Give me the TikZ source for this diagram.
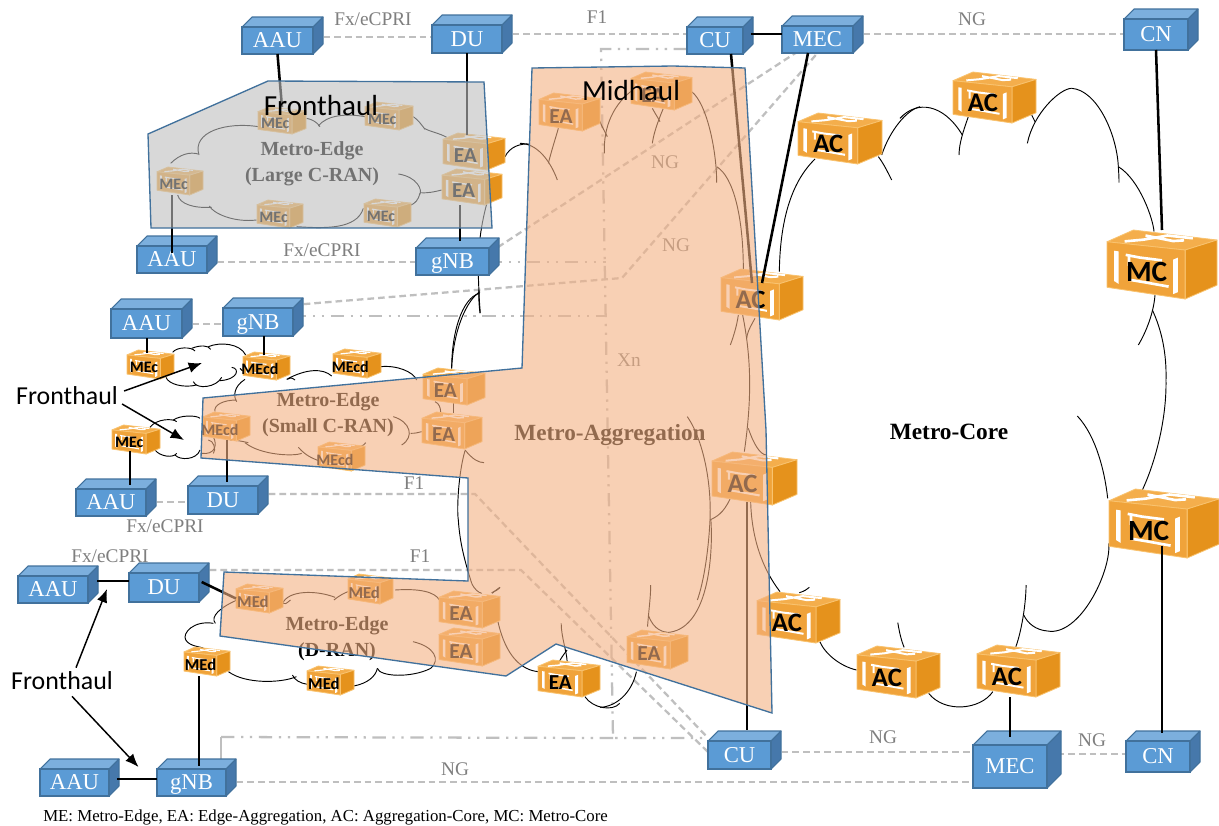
\documentclass[tikz,border=0pt]{standalone}
\usepackage{fontspec}
\setmainfont{Liberation Serif}
\newfontfamily\calib{Carlito}
\usetikzlibrary{arrows.meta}
\pgfdeclarelayer{back}\pgfdeclarelayer{cloudl}\pgfsetlayers{back,cloudl,main}
\definecolor{bluF}{HTML}{5B9BD5}
\definecolor{bluT}{HTML}{7CAFDD}
\definecolor{bluS}{HTML}{4678AB}
\definecolor{bluL}{HTML}{41719C}
\definecolor{rF}{HTML}{F0A33A}
\definecolor{rT}{HTML}{F4AE4C}
\definecolor{rS}{HTML}{E5921C}
\definecolor{rL}{HTML}{F9C36F}
\definecolor{dashG}{HTML}{BFBFBF}
\definecolor{txtG}{HTML}{7F7F7F}
\definecolor{peach}{HTML}{F4B183}
\definecolor{polyL}{HTML}{41719C}
\tikzset{
 zm/.style n args={4}{xshift=#1*.75pt,yshift=-#2*.75pt,x=#3pt,y=-#4pt},
 cl/.style={draw=black,line width=.7pt},
 cable/.style={draw=black,line width=1.9pt},
 dsh/.style={draw=dashG,line width=1.7pt,dash pattern=on 5pt off 3pt},
 dshdot/.style={draw=dashG,line width=1.7pt,dash pattern=on 10pt off 5pt on 1.7pt off 5pt on 1.7pt off 5pt},
 bluface/.style={draw=bluL,line width=.8pt,line join=round},
 blufront/.style={rectangle,fill=bluF,draw=bluL,line width=.8pt,inner sep=0pt,outer sep=0pt,text=white,font=\fontsize{17}{18}\selectfont,text height=11pt,text depth=0pt},
 rtrhit/.style={rectangle,inner sep=0pt,outer sep=0pt},
 grl/.style={text=txtG,inner sep=0pt,font=\fontsize{14.5}{16}\selectfont},
 region/.style={inner sep=0pt,align=center,font=\fontsize{15}{19.5}\selectfont\bfseries},
 hop/.style={inner sep=0pt,font=\calib\fontsize{19.4}{22}\selectfont},
 arr/.style={draw=black,line width=1.1pt,-{Latex[length=10pt,width=8pt]}}
}
\newcommand\blu[7]{%
 \filldraw[bluface,fill=bluT] (#2,#3+#6) -- (#2+#6,#3) -- (#4,#3) -- (#4-#6,#3+#6) -- cycle;
 \filldraw[bluface,fill=bluS] (#4-#6,#3+#6) -- (#4,#3) -- (#4,#5-#6) -- (#4-#6,#5) -- cycle;
 \node[blufront,minimum width=(#4-#2-#6)*.75pt,minimum height=(#5-#3-#6)*.75pt,anchor=north west] (#1) at (#2,#3+#6) {#7};
}
\newcommand\rtr[7]{%
 \pgfmathsetmacro\rW{(#4-#2)*.75}\pgfmathsetmacro\rH{(#5-#3)*.75}
 \pgfmathsetmacro\rL{(#4-#2)*.018}
 \node[rtrhit,minimum width=\rW pt,minimum height=\rH pt] (#1) at ({(#2+#4)/2},{(#3+#5)/2}) {};
 \begin{scope}[shift={(#2,#3)},x=\rW pt,y=-\rH pt]
  \filldraw[draw=rL,fill=rT,line width=.6pt,line join=round] (0,.17) -- (.24,0) -- (1,.145) -- (.71,.29) -- cycle;
  \filldraw[draw=rL,fill=rS,line width=.6pt,line join=round] (.71,.29) -- (1,.145) -- (1,.8) -- (.71,1) -- cycle;
  \filldraw[draw=rL,fill=rF,line width=.6pt,line join=round] (0,.17) -- (.71,.29) -- (.71,1) -- (0,.83) -- cycle;
  \fill[white] (.065,.30) -- (.105,.31) -- (.105,.78) -- (.065,.74) -- cycle;
  \fill[white] (.60,.43) -- (.645,.40) -- (.645,.90) -- (.60,.93) -- cycle;
  \draw[white,line width=\rL pt] (.17,.36) -- (.3,.4) -- (.5,.44) (.2,.36) -- (.2,.52) (.2,.72) -- (.35,.76) -- (.56,.82);
  \draw[white,line width=\rL pt] (.16,.165) -- (.33,.14) -- (.55,.08) -- (.78,.12) (.35,.08) -- (.6,.16) -- (.7,.15);
  \node[inner sep=0pt,font=\calib\bfseries\fontsize{#7}{#7}\selectfont] (#1l) at (.36,.61) {#6};
 \end{scope}
}
\newcommand\cv[4]{\draw[cl] (#1) .. controls (#2) and (#3) .. (#4);}
\begin{document}
\begin{tikzpicture}[x=.75pt,y=-.75pt]
\useasboundingbox (0,0) rectangle (1219,825);
\begin{pgfonlayer}{back}
\fill[white] (0,0) rectangle (1219,825);
\end{pgfonlayer}

\blu{aauTop}{242}{17}{323}{54}{10}{AAU}
\blu{duTop}{432}{15}{512}{53}{10}{DU}
\blu{cuTop}{687}{17}{753}{54}{10}{CU}
\blu{mecTop}{782}{16}{863}{53}{10}{MEC}
\blu{cnTop}{1124}{9}{1198}{50}{10}{CN}
\blu{aauLC}{137}{236}{217}{273}{10}{AAU}
\blu{gnbLC}{416}{238}{499}{275}{10}{gNB}
\blu{aauSC}{111}{299}{192}{338}{10}{AAU}
\blu{gnbSC}{223}{298}{303}{336}{10}{gNB}
\blu{aauSD}{76}{479}{156}{516}{10}{AAU}
\blu{duSD}{188}{476}{268}{514}{10}{DU}
\blu{aauDD}{18}{566}{98}{603}{10}{AAU}
\blu{duDD}{129}{563}{209}{602}{10}{DU}
\blu{aauDG}{40}{759}{119}{796}{10}{AAU}
\blu{gnbDG}{157}{759}{236}{796}{10}{gNB}
\blu{cuBot}{708}{731}{781}{769}{10}{CU}
\blu{mecBot}{973}{731}{1061}{788}{14}{MEC}
\blu{cnBot}{1126}{731}{1200}{772}{10}{CN}

\rtr{mecA}{258}{107}{306}{134}{MEc}{12}
\rtr{mecB}{365}{102}{413}{130}{MEc}{12}
\rtr{mecC}{157}{167}{203}{195}{MEc}{12}
\rtr{mecD}{257}{200}{303}{228}{MEc}{12}
\rtr{mecE}{364}{199}{411}{227}{MEc}{12}
\rtr{eaA}{443}{133}{505}{170}{EA}{16}
\rtr{eaB}{442}{169}{502}{205}{EA}{16}
\rtr{mecF}{127}{350}{174}{379}{MEc}{12}
\rtr{mecdA}{243}{352}{290}{380}{MEcd}{12}
\rtr{mecdB}{333}{349}{381}{378}{MEcd}{12}
\rtr{eaC}{423}{368}{485}{405}{EA}{16}
\rtr{eaD}{422}{412}{482}{449}{EA}{16}
\rtr{mecdC}{203}{412}{250}{441}{MEcd}{12}
\rtr{mecG}{112}{425}{160}{454}{MEc}{12}
\rtr{mecdD}{318}{442}{365}{471}{MEcd}{12}
\rtr{medA}{236}{584}{283}{613}{MEd}{12.5}
\rtr{medB}{348}{574}{393}{604}{MEd}{12.5}
\rtr{medC}{184}{647}{230}{676}{MEd}{12.5}
\rtr{medD}{307}{666}{354}{695}{MEd}{12.5}
\rtr{eaE}{439}{591}{500}{628}{EA}{16}
\rtr{eaF}{439}{628}{500}{666}{EA}{16}
\rtr{eaG}{538}{660}{600}{697}{EA}{16}
\rtr{eaH}{627}{630}{688}{669}{EA}{16}
\rtr{eaI}{539}{93}{600}{131}{EA}{16}
\rtr{eaJ}{631}{72}{692}{110}{EA}{16}
\rtr{acT}{798}{113}{882}{164}{AC}{20}
\rtr{acU}{953}{72}{1036}{123}{AC}{20}
\rtr{acA}{721}{269}{803}{320}{AC}{20}
\rtr{acB}{712}{452}{797}{505}{AC}{20}
\rtr{acC}{757}{592}{840}{643}{AC}{20}
\rtr{acD}{857}{646}{940}{698}{AC}{20}
\rtr{acE}{977}{645}{1060}{697}{AC}{20}
\rtr{mcT}{1107}{230}{1217}{299}{MC}{22}
\rtr{mcB}{1109}{489}{1219}{558}{MC}{22}

\begin{pgfonlayer}{back}
 % dashed interfaces
 \draw[dsh] (aauTop.east |- 0,37) -- (duTop.west |- 0,37);
 \draw[dsh] (duTop.east |- 0,34) -- (cuTop.west |- 0,34);
 \draw[dsh] (mecTop.east |- 0,34) -- (cnTop.west |- 0,34);
 \draw[dsh] (aauLC.east |- 0,262) -- (gnbLC.west |- 0,262);
 \draw[dsh] (aauSC.east |- 0,324) -- (gnbSC.west |- 0,324);
 \draw[dsh] (aauSD.east |- 0,502) -- (duSD.west |- 0,502);
 \draw[dsh] (gnbLC.east |- 0,253) -- (797,52) -- (mecTop.south);
 \draw[dsh] (gnbSC.east |- 0,305) -- (622,278) -- (mecTop.south);
 \draw[dsh] (duSD.east |- 0,494) -- (475,494) -- (cuBot.west |- 0,738);
 \draw[dsh] (duDD.east |- 0,570) -- (521,570) -- (cuBot.west |- 0,752);
 \draw[dsh] (gnbDG.east |- 0,782) -- (mecBot.west |- 0,782);
 \draw[dsh] (cuBot.east |- 0,752) -- (mecBot.west |- 0,752);
 \draw[dsh] (mecBot.east |- 0,754) -- (cnBot.west |- 0,754);
 % dash-dot interfaces
 \draw[dshdot] (cuTop.west |- 0,49) -- (601,49) -- (613,738) -- (cuBot.west |- 0,738);
 \draw[dshdot] (613,738) -- (221,737);
 \draw[draw=dashG,line width=1.7pt] (221,737) -- (221,0 |- gnbDG.north);
 \draw[dshdot] (gnbLC.east |- 0,262) -- (606,262);
 \draw[dshdot] (gnbSC.east |- 0,316) -- (606,316);
 % labels
 \node[grl] (lb1) at (373,19) {Fx/eCPRI};
 \node[grl] (lb2) at (597,17) {F1};
 \node[grl] (lb3) at (972,19) {NG};
 \node[grl] (lb4) at (322,250) {Fx/eCPRI};
 \node[grl] (lb5) at (665,162) {NG};
 \node[grl] (lb6) at (676,245) {NG};
 \node[grl] (lb7) at (629,360) {Xn};
 \node[grl] (lb8) at (414,483) {F1};
 \node[grl] (lb9) at (165,526) {Fx/eCPRI};
 \node[grl] (lb10) at (110,556) {Fx/eCPRI};
 \node[grl] (lb11) at (420,556) {F1};
 \node[grl] (lb12) at (455,769) {NG};
 \node[grl] (lb13) at (883,737) {NG};
 \node[grl] (lb14) at (1092,740) {NG};
\end{pgfonlayer}

\begin{pgfonlayer}{cloudl}
\begin{scope}[zm={130}{0}{.25}{.25}]
 \cv{122,490}{150,462}{180,455}{205,462}
 \cv{207,465}{185,395}{290,365}{385,380}
 \cv{530,355}{545,358}{560,365}{570,380}
 \cv{565,378}{590,345}{650,340}{705,350}
 \cv{850,350}{865,360}{875,375}{885,388}
 \cv{883,385}{900,395}{930,400}{950,412}
 \cv{935,570}{915,575}{895,580}{870,578}
 \cv{805,522}{860,530}{880,570}{868,585}
 \cv{870,580}{865,600}{855,610}{843,615}
 \cv{700,625}{680,690}{580,685}{500,680}
 \cv{380,660}{310,668}{250,640}{238,618}
 \cv{245,622}{190,625}{150,612}{143,585}
 \cv{1050,715}{1060,630}{1085,560}{1100,520}
 \cv{1125,470}{1140,440}{1170,430}{1200,432}
\end{scope}
\begin{scope}[zm={0}{290}{.25}{.25}]
 \cv{518,187}{530,170}{575,170}{585,183}
 \cv{575,175}{600,165}{625,165}{632,178}
 \cv{625,170}{660,155}{720,160}{737,195}
 \cv{695,232}{720,235}{715,268}{660,272}
 \cv{665,262}{650,292}{590,300}{580,275}
 \cv{590,285}{550,295}{505,282}{498,262}
 \cv{720,235}{725,240}{728,245}{732,242}
 \cv{450,412}{470,385}{520,385}{530,395}
 \cv{520,390}{540,375}{590,375}{600,385}
 \cv{465,480}{480,500}{520,505}{530,490}
 \cv{525,495}{540,512}{590,510}{600,480}
 \cv{605,490}{640,495}{655,470}{640,440}
 \cv{860,268}{920,235}{970,235}{995,258}
 \cv{1142,230}{1190,225}{1240,245}{1250,270}
 \cv{885,270}{875,262}{868,262}{862,268}
 \cv{735,268}{700,290}{700,320}{710,335}
 \cv{710,330}{670,330}{640,345}{645,365}
 \cv{1180,380}{1230,395}{1245,440}{1205,465}
 \cv{1265,425}{1255,428}{1245,430}{1232,430}
 \cv{1097,458}{1090,478}{1000,480}{955,510}
 \cv{895,472}{920,500}{940,505}{955,512}
 \cv{735,458}{780,495}{880,500}{905,490}
 \cv{745,458}{720,452}{700,450}{690,450}
 \cv{625,450}{640,450}{650,480}{640,490}
 \cv{1355,235}{1360,120}{1400,30}{1440,5}
 \cv{1440,70}{1435,30}{1437,10}{1437,0}
 \cv{1395,480}{1420,510}{1435,517}{1452,518}
\end{scope}
\begin{scope}[zm={430}{260}{.25}{.25}]
 \cv{145,48}{147,100}{148,130}{151,158}
 \cv{148,100}{95,115}{65,220}{65,325}
 \cv{15,425}{28,430}{32,445}{32,457}
 \cv{70,430}{70,440}{70,450}{70,458}
 \cv{105,572}{85,640}{80,750}{85,780}
 \cv{85,780}{90,860}{110,920}{125,970}
 \cv{125,970}{135,990}{145,997}{155,1000}
 \cv{185,998}{195,995}{205,988}{210,982}
\end{scope}
\begin{scope}[zm={0}{540}{.2964}{.25}]
 \cv{1480,470}{1500,505}{1550,515}{1568,490}
 \cv{1420,250}{1420,290}{1435,340}{1435,365}
 \cv{1435,330}{1425,345}{1418,358}{1415,365}
 \cv{1260,245}{1280,350}{1320,390}{1362,395}
 \cv{1265,142}{1255,150}{1250,155}{1245,160}
 \cv{1045,305}{1100,320}{1115,360}{1090,385}
 \cv{1090,385}{1040,415}{960,410}{955,385}
 \cv{955,385}{950,410}{930,430}{895,438}
 \cv{740,405}{745,420}{760,430}{778,433}
 \cv{578,395}{620,432}{710,430}{750,410}
 \cv{1000,150}{1060,145}{1100,155}{1112,180}
 \cv{880,155}{860,165}{850,175}{845,180}
 \cv{848,172}{800,150}{730,150}{715,190}
 \cv{735,180}{725,190}{720,195}{715,190}
 \cv{600,180}{560,200}{530,230}{545,250}
 \cv{540,250}{490,240}{460,280}{470,300}
 \cv{470,300}{480,320}{510,320}{515,325}
\end{scope}
\begin{scope}[zm={520}{0}{.25}{.25}]
 \cv{0,430}{50,430}{90,480}{112,540}
 \cv{115,385}{105,420}{95,450}{85,490}
 \cv{238,360}{245,380}{255,395}{262,410}
 \cv{253,460}{250,380}{280,310}{345,265}
 \cv{397,325}{405,340}{415,355}{420,365}
 \cv{430,325}{405,385}{400,410}{397,430}
 \cv{515,275}{560,310}{590,450}{590,548}
 \cv{590,500}{640,530}{670,650}{670,810}
 \cv{885,477}{810,550}{780,670}{778,815}
 \cv{1115,540}{1100,510}{1090,490}{1075,470}
 \cv{1085,465}{1110,390}{1160,330}{1200,320}
\end{scope}
\begin{scope}[zm={900}{0}{.25}{.25}]
 \cv{0,355}{50,300}{130,310}{187,405}
 \cv{205,350}{180,420}{178,440}{177,465}
 \cv{395,345}{398,352}{402,358}{405,365}
 \cv{382,430}{400,340}{480,265}{515,265}
 \cv{515,265}{590,270}{650,400}{655,500}
 \cv{657,548}{657,530}{656,515}{655,500}
 \cv{655,500}{720,540}{760,660}{762,695}
 \cv{765,885}{760,950}{730,1010}{715,1035}
 \cv{757,930}{785,990}{800,1060}{798,1140}
\end{scope}
\begin{scope}[zm={680}{300}{.25}{.25}]
 \cv{175,45}{170,80}{160,110}{151,135}
 \cv{188,45}{215,180}{215,300}{193,455}
 \cv{225,55}{205,90}{202,100}{200,115}
 \cv{205,385}{220,430}{240,465}{260,465}
 \cv{22,350}{70,420}{95,550}{90,660}
 \cv{90,660}{85,760}{70,850}{52,900}
 \cv{150,597}{130,640}{110,650}{90,660}
 \cv{212,605}{215,720}{250,810}{300,875}
 \cv{358,878}{375,873}{380,868}{388,862}
\end{scope}
\begin{scope}[zm={1060}{380}{.25}{.25}]
 \cv{52,108}{110,170}{135,280}{143,355}
 \cv{318,0}{320,130}{280,260}{247,330}
\end{scope}
\begin{scope}[zm={600}{430}{.297}{.25}]
 \cv{1285,340}{1290,430}{1210,620}{1130,603}
 \cv{1130,603}{1100,600}{1080,580}{1070,555}
 \cv{1076,465}{1075,540}{1060,620}{1050,650}
 \cv{992,785}{960,840}{870,850}{830,790}
 \cv{648,720}{610,710}{570,675}{555,635}
 \cv{768,652}{760,630}{755,600}{752,578}
 \cv{122,555}{135,600}{160,607}{175,607}
 \cv{175,607}{280,590}{285,350}{280,270}
 \cv{128,465}{128,500}{124,530}{120,590}
 \cv{92,725}{80,790}{40,830}{0,832}
\end{scope}
\end{pgfonlayer}

% thick links
\draw[cable] (aauTop.south) -- (mecA.north);
\draw[cable] (duTop.south) -- ([yshift=-1.5pt]duTop.south |- eaA.north);
\draw[cable] (172,0 |- mecC.south) -- ([yshift=-5pt]172,0 |- aauLC.north);
\draw[cable] (460,0 |- eaB.south) -- ([yshift=5pt]460,0 |- gnbLC.north);
\draw[cable] (147,0 |- aauSC.south) -- ([yshift=-2pt]147,0 |- mecF.north);
\draw[cable] (264,0 |- gnbSC.south) -- ([yshift=-2pt]264,0 |- mecdA.north);
\draw[cable] ([yshift=2pt]130,0 |- mecG.south) -- ([yshift=3pt]130,0 |- aauSD.north);
\draw[cable] ([yshift=1pt]227,0 |- mecdC.south) -- ([yshift=3pt]227,0 |- duSD.north);
\draw[cable] ([xshift=7pt]aauDD.east |- 0,581) -- (duDD.west |- 0,581);
\draw[cable] ([xshift=2pt]duDD.east |- 0,582) -- (medA.west);
\draw[cable] (199,0 |- medC.south) -- ([yshift=2pt]199,0 |- gnbDG.north);
\draw[cable] ([xshift=6pt]aauDG.east |- 0,779) -- (gnbDG.west |- 0,779);
\draw[cable] ([xshift=6pt]cuTop.east |- 0,34) -- (mecTop.west |- 0,34);
\draw[cable] (731,0 |- cuTop.south) -- ([shift={(-10,14)}]acA.north);
\draw[cable] (808,0 |- mecTop.south) -- ([yshift=-10.5pt]acA.north);
\draw[cable] (cnTop.south) -- (mcT.north);
\draw[cable] ([yshift=2pt]747,0 |- acB.south) -- ([yshift=8pt]747,0 |- cuBot.north);
\draw[cable] (1010,0 |- acE.south) -- ([yshift=6pt]1010,0 |- mecBot.north);
\draw[cable] ([yshift=-16.5pt]1162,0 |- mcB.center) -- ([yshift=6pt]1162,0 |- cnBot.north);

% region names (seen through the overlays)
\node[region] (rgL) at (312,164) {Metro-Edge\\(Large C-RAN)};
\node[region] (rgS) at (328,415) {Metro-Edge\\(Small C-RAN)};
\node[region] (rgD) at (337,639) {Metro-Edge\\(D-RAN)};
\node[region,font=\fontsize{17.4}{20}\selectfont\bfseries] (rgA) at (610,435) {Metro-Aggregation};

% overlays
\filldraw[draw=polyL,line width=1pt,fill=dashG,fill opacity=.6]
 (148,134) -- (268,81) -- (484,82) -- (492,228) -- (151,228) -- cycle;
\filldraw[draw=polyL,line width=1pt,fill=peach,fill opacity=.6]
 (532,68) -- (673,66) -- (745,68) -- (766,430) -- (772,713) -- (556,644) -- (506,676) -- (220,636) -- (224,572) -- (468,581) -- (468,478) -- (201,458) -- (203,398) -- (522,368) -- cycle;

% on top
\node[region,font=\fontsize{17.5}{20}\selectfont\bfseries] (rgC) at (949,432) {Metro-Core};
\node[hop,font=\calib\fontsize{21.8}{24}\selectfont] (fhA) at (321,106) {Fronthaul};
\node[hop,font=\calib\fontsize{21.8}{24}\selectfont] (mh) at (631,91) {Midhaul};
\node[hop] (fhB) at (67,396) {Fronthaul};
\node[hop] (fhC) at (62,681) {Fronthaul};
\coordinate (cloudA) at (202,363);
\coordinate (cloudB) at (184,440);
\draw[arr] (fhB.east) ++(6,-5) -- (cloudA);
\draw[arr] (fhB.east) ++(4,8) -- (cloudB);
\draw[arr] (fhC.north) ++(14,-4) -- ([shift={(-57,-13)}]duDD.south);
\draw[arr] (fhC.south) ++(10,6) -- ([shift={(-53,-29)}]gnbDG.south);
\node[inner sep=0pt,anchor=west,font=\fontsize{12.6}{14}\selectfont] (note) at (43,817) {ME: Metro-Edge, EA: Edge-Aggregation, AC: Aggregation-Core, MC: Metro-Core};
\end{tikzpicture}
\end{document}
